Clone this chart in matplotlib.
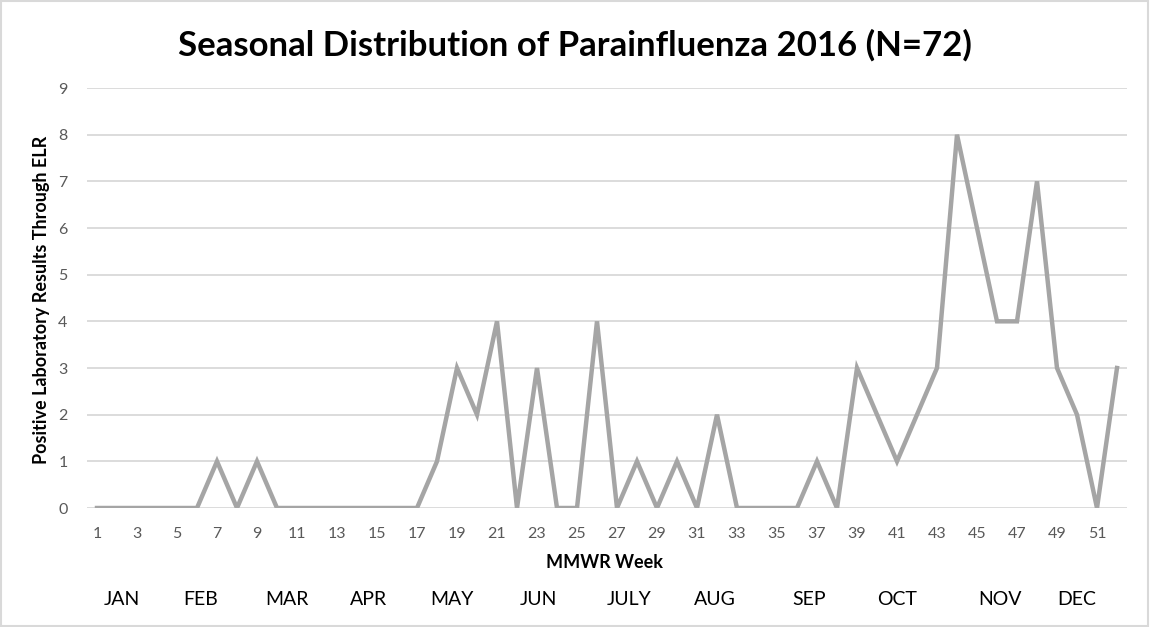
import matplotlib.pyplot as plt
from matplotlib.patches import Rectangle

plt.rcParams['font.family'] = ['Lato', 'DejaVu Sans']

# MMWR 周与阳性数
weeks = list(range(1, 53))
counts = [0, 0, 0, 0, 0, 0, 1, 0, 1, 0,
          0, 0, 0, 0, 0, 0, 0, 1, 3, 2,
          4, 0, 3, 0, 0, 4, 0, 1, 0, 1,
          0, 2, 0, 0, 0, 0, 1, 0, 3, 2,
          1, 2, 3, 8, 6, 4, 4, 7, 3, 2,
          0, 3]
tick_weeks = list(range(1, 53, 2))
months = ['JAN', 'FEB', 'MAR', 'APR', 'MAY', 'JUN', 'JULY', 'AUG', 'SEP', 'OCT', 'NOV', 'DEC']
month_pos = [2.25, 6.2, 10.5, 14.6, 18.75, 23.05, 27.6, 31.9, 36.6, 41.0, 46.15, 50.0]

fig = plt.figure(figsize=(11.5, 6.27), dpi=100)
ax = fig.add_axes([87 / 1150, 1 - 508 / 627, 1040 / 1150, 420 / 627])

ax.plot(weeks, counts, color='#A5A5A5', linewidth=3.2, solid_joinstyle='miter', zorder=3)

ax.set_xlim(0.5, 52.5)
ax.set_ylim(0, 9)
ax.set_yticks(range(10))
ax.set_xticks(tick_weeks)
ax.grid(axis='y', color='#D9D9D9', linewidth=1.3)
ax.set_axisbelow(True)
for s in ax.spines.values():
    s.set_visible(False)
ax.tick_params(length=0, labelsize=11.5, labelcolor='#595959')
ax.tick_params(axis='x', pad=14)
ax.tick_params(axis='y', pad=14)

# 标题和坐标轴标签
fig.text(0.5, 1 - 45 / 627, 'Seasonal Distribution of Parainfluenza 2016 (N=72)',
         ha='center', va='center', fontsize=25, fontweight='bold')
fig.text(605 / 1150, 1 - 563 / 627, 'MMWR Week', ha='center', va='center',
         fontsize=13, fontweight='bold')
fig.text(42 / 1150, 1 - 300 / 627, 'Positive Laboratory Results Through ELR', rotation=90,
         ha='center', va='center', fontsize=13, fontweight='bold')

# 月份标签
for m, p in zip(months, month_pos):
    ax.text(p, -0.219, m, transform=ax.get_xaxis_transform(), ha='center', va='center', fontsize=14)

fig.patches.append(Rectangle((0.001, 0.002), 0.997, 0.996, transform=fig.transFigure,
                             fill=False, edgecolor='#D9D9D9', linewidth=1.5))

plt.savefig('out.png', dpi=100)
